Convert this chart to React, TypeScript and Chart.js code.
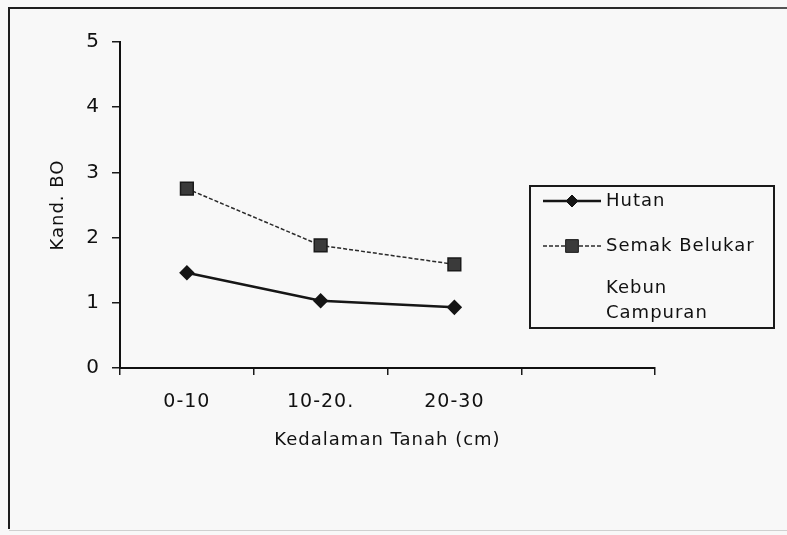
import React, { useEffect, useRef } from 'react';
import { Chart, registerables } from 'chart.js';

Chart.register(...registerables);

const categories = ['0-10', '10-20.', '20-30', ''];
const hutanValues = [1.46, 1.03, 0.93];
const semakValues = [2.75, 1.88, 1.59];
const kebunValues: (number | null)[] = [];
const seriesLabels = ['Hutan', 'Semak Belukar', 'Kebun Campuran'];
const yMin = 0;
const yMax = 5;
const yStep = 1;
const xTitle = 'Kedalaman Tanah (cm)';
const yTitle = 'Kand. BO';

const FONT = '"DejaVu Sans", "Liberation Sans", Arial, sans-serif';

const spacingPlugin = {
  id: 'spacing',
  beforeUpdate(chart: any) {
    (chart.ctx as any).letterSpacing = '1px';
  },
  beforeDraw(chart: any) {
    (chart.ctx as any).letterSpacing = '1px';
  },
};

const framePlugin = {
  id: 'frame',
  beforeDraw(chart: any) {
    const ctx = chart.ctx as CanvasRenderingContext2D;
    ctx.save();
    ctx.fillStyle = '#f8f8f8';
    ctx.fillRect(0, 0, chart.width, chart.height);
    ctx.lineWidth = 2;
    const g = ctx.createLinearGradient(0, 0, chart.width, 0);
    g.addColorStop(0, '#1e1e1e');
    g.addColorStop(0.85, '#2a2a2a');
    g.addColorStop(1, '#555');
    ctx.strokeStyle = g;
    ctx.beginPath();
    ctx.moveTo(9, 529);
    ctx.lineTo(9, 8);
    ctx.lineTo(chart.width, 8);
    ctx.stroke();
    ctx.strokeStyle = '#d0d0d0';
    ctx.lineWidth = 1;
    ctx.beginPath();
    ctx.moveTo(9, 530.5);
    ctx.lineTo(chart.width, 530.5);
    ctx.stroke();
    ctx.restore();
  },
};

function drawMarker(ctx: CanvasRenderingContext2D, style: string, x: number, y: number, r: number, fill: string, stroke: string) {
  ctx.beginPath();
  if (style === 'rectRot') {
    ctx.moveTo(x - r, y);
    ctx.lineTo(x, y - r);
    ctx.lineTo(x + r, y);
    ctx.lineTo(x, y + r);
    ctx.closePath();
  } else {
    const s = r * Math.SQRT1_2;
    ctx.rect(x - s, y - s, 2 * s, 2 * s);
  }
  ctx.fillStyle = fill;
  ctx.fill();
  ctx.lineWidth = 1;
  ctx.strokeStyle = stroke;
  ctx.stroke();
}

const legendPlugin = {
  id: 'boxLegend',
  afterDraw(chart: any) {
    const ctx = chart.ctx as CanvasRenderingContext2D;
    const x0 = 530, y0 = 186, x1 = 774, y1 = 328;
    ctx.save();
    (ctx as any).letterSpacing = '1px';
    ctx.strokeStyle = '#1a1a1a';
    ctx.lineWidth = 2;
    ctx.strokeRect(x0, y0, x1 - x0, y1 - y0);
    const rows = [201, 246, 288];
    const textX = 606;
    const lineH = 25;
    ctx.font = `18px ${FONT}`;
    ctx.textBaseline = 'middle';
    ctx.textAlign = 'left';
    chart.data.datasets.forEach((ds: any, i: number) => {
      const y = rows[i];
      if (ds.data.length > 0) {
        ctx.save();
        ctx.strokeStyle = ds.borderColor;
        ctx.lineWidth = ds.borderWidth;
        ctx.setLineDash(ds.borderDash || []);
        ctx.beginPath();
        ctx.moveTo(543, y);
        ctx.lineTo(601, y);
        ctx.stroke();
        ctx.setLineDash([]);
        drawMarker(ctx, ds.pointStyle, 572, y, ds.pointRadius, ds.pointBackgroundColor, ds.pointBorderColor);
        ctx.restore();
      }
      const words = String(ds.label).split(' ');
      const lines: string[] = [];
      let cur = '';
      const maxW = x1 - textX - 6;
      words.forEach((w) => {
        const t = cur ? cur + ' ' + w : w;
        if (cur && ctx.measureText(t).width > maxW) {
          lines.push(cur);
          cur = w;
        } else {
          cur = t;
        }
      });
      if (cur) lines.push(cur);
      ctx.fillStyle = '#111';
      lines.forEach((l, k) => ctx.fillText(l, textX, y + k * lineH));
    });
    ctx.restore();
  },
};

export default function App() {
  const ref = useRef<HTMLCanvasElement | null>(null);
  useEffect(() => {
    if (!ref.current) return;
    const chart = new Chart(ref.current, {
      type: 'line',
      data: {
        labels: categories,
        datasets: [
          {
            label: seriesLabels[0],
            data: hutanValues,
            borderColor: '#161616',
            borderWidth: 2.5,
            pointStyle: 'rectRot',
            pointRadius: 6,
            pointBackgroundColor: '#151515',
            pointBorderColor: '#151515',
            tension: 0,
          } as any,
          {
            label: seriesLabels[1],
            data: semakValues,
            borderColor: '#2a2a2a',
            borderWidth: 1.5,
            borderDash: [4, 2],
            pointStyle: 'rect',
            pointRadius: 9,
            pointBackgroundColor: '#3a3a3a',
            pointBorderColor: '#1a1a1a',
            tension: 0,
          } as any,
          {
            label: seriesLabels[2],
            data: kebunValues,
            borderColor: 'rgba(0,0,0,0)',
            borderWidth: 0,
            pointRadius: 0,
          } as any,
        ],
      },
      options: {
        responsive: false,
        animation: false,
        layout: { padding: { left: 0, top: 42, right: 132, bottom: 82 } },
        plugins: {
          legend: { display: false },
          tooltip: { enabled: false },
        },
        scales: {
          x: {
            type: 'category',
            offset: true,
            grid: {
              display: true,
              offset: true,
              drawOnChartArea: false,
              drawTicks: true,
              tickLength: 7,
              color: '#1a1a1a',
              lineWidth: 1.5,
            },
            border: { display: true, color: '#111', width: 2 },
            ticks: {
              color: '#111',
              font: { family: FONT, size: 19 },
              padding: 16,
              maxRotation: 0,
              autoSkip: false,
            },
            title: {
              display: true,
              text: xTitle,
              color: '#111',
              font: { family: FONT, size: 18 },
              padding: { top: 0, bottom: 2 },
            },
            afterFit: (s: any) => {
              s.height = 85;
            },
          },
          y: {
            min: yMin,
            max: yMax,
            grid: {
              display: true,
              drawOnChartArea: false,
              drawTicks: true,
              tickLength: 8,
              color: '#1a1a1a',
              lineWidth: 1.5,
            },
            border: { display: true, color: '#111', width: 2 },
            ticks: {
              stepSize: yStep,
              color: '#111',
              font: { family: FONT, size: 20 },
              padding: 12,
            },
            title: {
              display: true,
              text: yTitle,
              color: '#111',
              font: { family: FONT, size: 18 },
              padding: { top: 48, bottom: 0 },
            },
            afterFit: (s: any) => {
              s.width = 120;
            },
          },
        },
      },
      plugins: [spacingPlugin, framePlugin, legendPlugin],
    });
    return () => chart.destroy();
  }, []);
  return (
    <div style={{ position: 'fixed', left: 0, top: 0, width: 787, height: 535 }}>
      <canvas ref={ref} width={787} height={535} style={{ display: 'block' }} />
    </div>
  );
}
